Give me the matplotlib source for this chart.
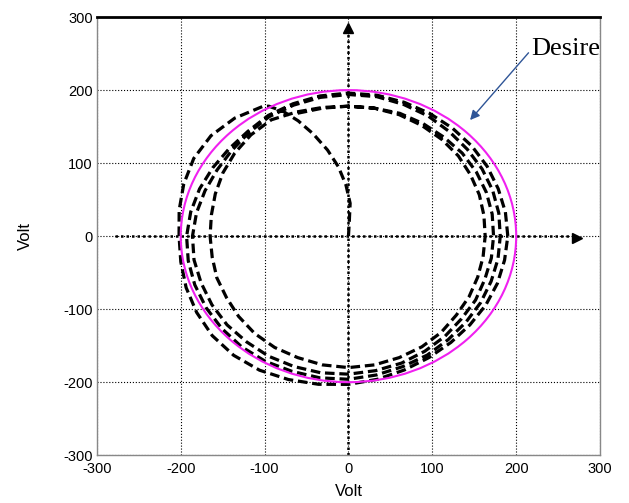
import numpy as np
import matplotlib
matplotlib.use("Agg")
from matplotlib import pyplot as plt
from matplotlib.patches import Circle

plt.rcParams["axes.unicode_minus"] = False

# desired reference circle
desire_radius = 200

# start of trajectory, from origin up to the first loop
start_x = [0, 1, 2, -3, -12, -25, -42, -60, -78, -95]
start_y = [0, 20, 45, 70, 95, 118, 140, 158, 171, 178]

# traced radius of each loop at these angles (deg), 120 .. 470
loop_angles = [120, 130, 140, 150, 160, 170, 180, 190, 200, 210, 220, 230,
               240, 250, 260, 270, 280, 290, 300, 310, 320, 330, 340, 350,
               360, 370, 380, 390, 400, 410, 420, 430, 440, 450, 460, 470]
loop1_r = [205, 211, 214, 213, 209, 205, 202, 203, 206, 209, 212, 213,
           212, 209, 206, 203, 199, 195, 192, 190, 189, 189, 189, 189,
           190, 190, 190, 191, 192, 193, 194, 195, 196, 196, 195, 193]
loop2_r = [191, 187, 186, 187, 189, 191, 193, 194, 195, 196, 197, 198,
           198, 197, 197, 196, 193, 190, 188, 185, 183, 182, 181, 181,
           181, 182, 183, 184, 185, 187, 190, 192, 194, 194, 193, 191]
loop3_r = [189, 185, 182, 181, 182, 184, 186, 187, 187, 188, 189, 189,
           190, 190, 190, 189, 187, 185, 182, 179, 176, 175, 173, 173,
           173, 174, 175, 176, 177, 177, 178, 179, 178, 178, 179, 181]
loop4_r = [184, 181, 177, 173, 169, 166, 165, 165, 167, 168, 171, 174,
           176, 177, 179, 180, 179, 177, 175, 172, 168, 166, 164, 163,
           163, 164, 166, 168, 171, 173, 175, 177, 178, 178, 178, 179]

ticks = [-300, -200, -100, 0, 100, 200, 300]

traj_x = list(start_x)
traj_y = list(start_y)
for radii in [loop1_r, loop2_r, loop3_r, loop4_r]:
    th = np.radians(loop_angles)
    traj_x += list(np.array(radii) * np.cos(th))
    traj_y += list(np.array(radii) * np.sin(th))

fig = plt.figure(figsize=(6.29, 5.03), dpi=100)
ax = fig.add_axes([0.154, 0.095, 0.8, 0.871])

ax.set_xlim(-300, 300)
ax.set_ylim(-300, 300)
ax.set_xticks(ticks)
ax.set_yticks(ticks)
ax.grid(True, linestyle=":", color="black", linewidth=0.8)
ax.tick_params(length=0, labelsize=10.5)
ax.tick_params(axis="x", pad=5)
ax.tick_params(axis="y", pad=3)
for lab in ax.get_xticklabels() + ax.get_yticklabels():
    lab.set_family("Liberation Sans")

for s in ["left", "right", "bottom"]:
    ax.spines[s].set_color("#888888")
    ax.spines[s].set_linewidth(1)
ax.spines["top"].set_color("black")
ax.spines["top"].set_linewidth(2)

# axis lines with arrows
ax.plot([0, 0], [-300, 285], color="black", linestyle=(0, (1, 1.2)), linewidth=1.8, zorder=2)
ax.plot([-278, 268], [0, 0], color="black", linestyle=(0, (1, 1.2)), linewidth=1.8, zorder=2)
ax.plot(0, 285, marker="^", color="black", markersize=7, zorder=3)
ax.plot(272, -2, marker=">", color="black", markersize=7, zorder=3)

ax.plot(traj_x, traj_y, color="black", linestyle=(0, (3, 1.5)), linewidth=2.3, zorder=3)

circ = Circle((0, 0), desire_radius, fill=False, edgecolor="#f020f0", linewidth=1.5, zorder=4)
ax.add_patch(circ)

ax.annotate("Desire", xy=(145, 159), xytext=(218, 257),
            fontsize=19, family="Liberation Serif", va="center", ha="left",
            arrowprops=dict(arrowstyle="-|>", color="#2f5597", linewidth=1,
                            mutation_scale=14, shrinkA=0, shrinkB=0,
                            relpos=(0, 0.45)))

ax.set_xlabel("Volt", fontsize=12, family="Liberation Sans", labelpad=6)
ax.set_ylabel("Volt", fontsize=12, family="Liberation Sans", labelpad=22)

fig.savefig("out.png", dpi=100)
